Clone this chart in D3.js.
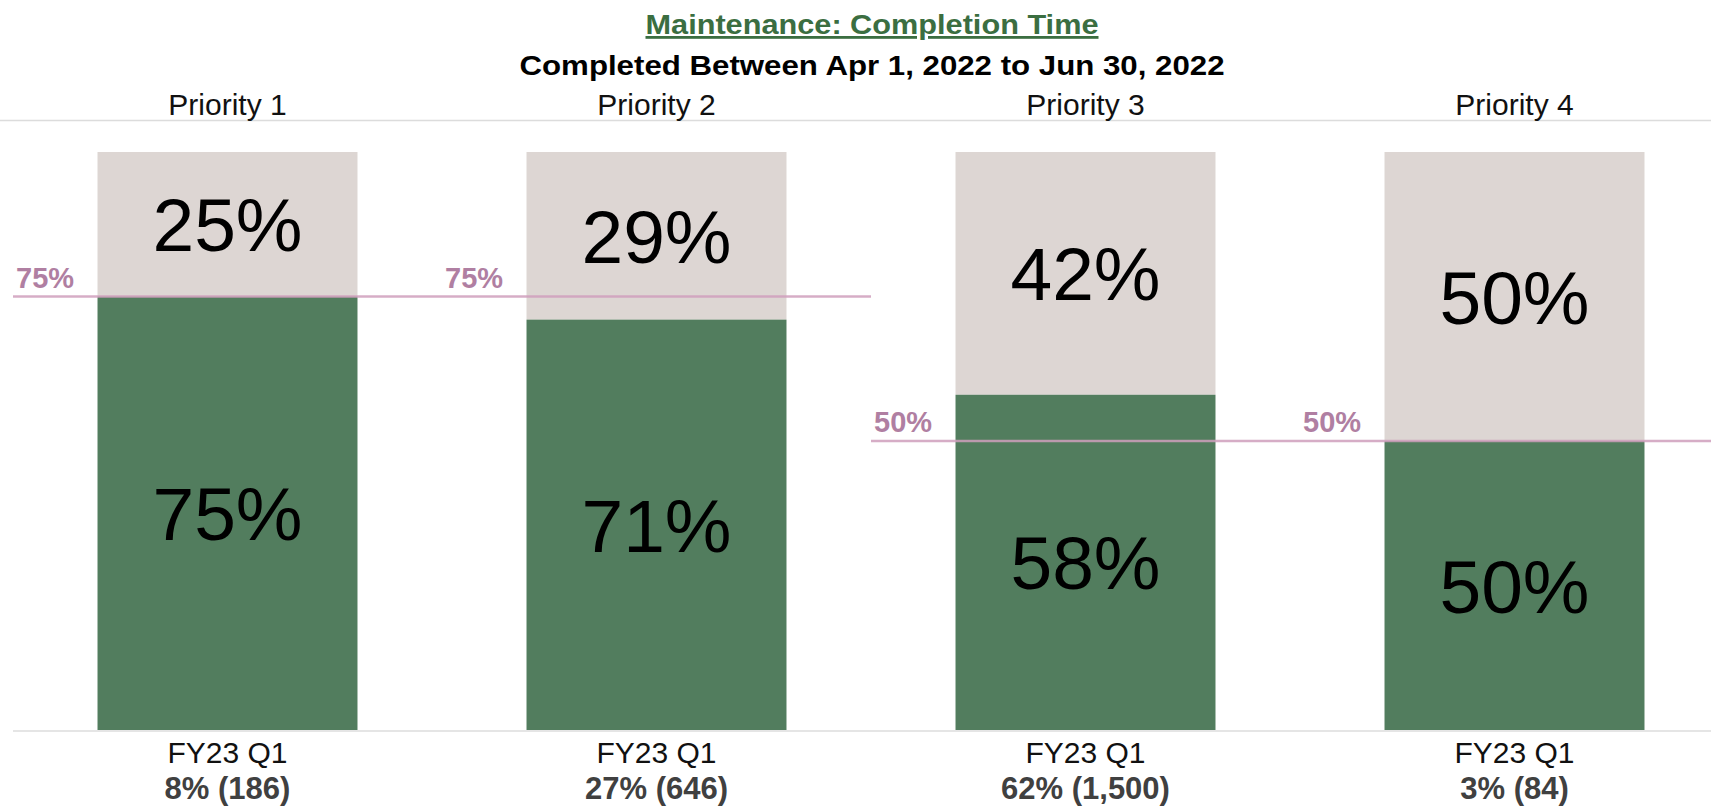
<!DOCTYPE html>
<html>
  <head>
    <style>
      body {
        margin: 0;
        background: #fff;
        font-family: "Liberation Sans", Arial, sans-serif;
      }
      svg text {
        font-family: "Liberation Sans", Arial, sans-serif;
      }
    </style>
    <script src="https://d3js.org/d3.v7.min.js"></script>
  </head>
  <body>
    <script>
      const width = 1711;
      const height = 809;

      // data
      const priorities = ["Priority 1", "Priority 2", "Priority 3", "Priority 4"];
      const onTime = [75, 71, 58, 50];
      const late = [25, 29, 42, 50];
      const targets = [75, 75, 50, 50];
      const periodLabels = ["FY23 Q1", "FY23 Q1", "FY23 Q1", "FY23 Q1"];
      const shareLabels = ["8% (186)", "27% (646)", "62% (1,500)", "3% (84)"];

      const green = "#527d5e";
      const grey = "#ddd6d3";
      const pink = "#cf9fbc";

      const svg = d3
        .select("body")
        .append("svg")
        .attr("width", width)
        .attr("height", height);

      const x = d3
        .scaleBand()
        .domain(priorities)
        .range([13, 1729])
        .paddingInner(0.394)
        .paddingOuter(0.197);

      const y = d3.scaleLinear().domain([0, 100]).range([730, 152]);

      const panelLeft = (d) => x(d) - (x.step() * x.paddingInner()) / 2;

      // titles
      svg
        .append("text")
        .attr("x", 872)
        .attr("y", 34)
        .attr("text-anchor", "middle")
        .attr("textLength", 453)
        .attr("lengthAdjust", "spacingAndGlyphs")
        .style("font-size", "28px")
        .style("font-weight", "bold")
        .style("fill", "#3b6e41")
        .style("text-decoration", "underline")
        .text("Maintenance: Completion Time");

      svg
        .append("text")
        .attr("x", 872)
        .attr("y", 75)
        .attr("text-anchor", "middle")
        .attr("textLength", 705)
        .attr("lengthAdjust", "spacingAndGlyphs")
        .style("font-size", "28px")
        .style("font-weight", "bold")
        .style("fill", "#000")
        .text("Completed Between Apr 1, 2022 to Jun  30, 2022");

      // header line + priority labels
      svg
        .append("line")
        .attr("x1", 0)
        .attr("x2", width)
        .attr("y1", 120.5)
        .attr("y2", 120.5)
        .attr("stroke", "#dcdcdc")
        .attr("stroke-width", 1.5);

      svg
        .selectAll(".prio")
        .data(priorities)
        .enter()
        .append("text")
        .attr("class", "prio")
        .attr("x", (d) => x(d) + x.bandwidth() / 2)
        .attr("y", 115)
        .attr("text-anchor", "middle")
        .style("font-size", "30px")
        .style("fill", "#111")
        .text((d) => d);

      // bars
      const g = svg
        .selectAll(".panel")
        .data(priorities)
        .enter()
        .append("g")
        .attr("class", "panel");

      g.append("rect")
        .attr("x", (d) => x(d))
        .attr("width", x.bandwidth())
        .attr("y", (d, i) => y(onTime[i] + late[i]))
        .attr("height", (d, i) => y(onTime[i]) - y(onTime[i] + late[i]))
        .attr("fill", grey);

      g.append("rect")
        .attr("x", (d) => x(d))
        .attr("width", x.bandwidth())
        .attr("y", (d, i) => y(onTime[i]))
        .attr("height", (d, i) => y(0) - y(onTime[i]))
        .attr("fill", green);

      // target lines
      g.append("line")
        .attr("x1", (d) => panelLeft(d))
        .attr("x2", (d) => Math.min(width, panelLeft(d) + x.step()))
        .attr("y1", (d, i) => y(targets[i]))
        .attr("y2", (d, i) => y(targets[i]))
        .attr("stroke", pink)
        .attr("stroke-opacity", 0.85)
        .attr("stroke-width", 2.5);

      g.append("text")
        .attr("x", (d) => panelLeft(d) + 3)
        .attr("y", (d, i) => y(targets[i]) - 9)
        .style("font-size", "29px")
        .style("font-weight", "bold")
        .style("fill", "#b07fa2")
        .text((d, i) => targets[i] + "%");

      // value labels
      g.append("text")
        .attr("x", (d) => x(d) + x.bandwidth() / 2)
        .attr("y", (d, i) => (y(onTime[i]) + y(onTime[i] + late[i])) / 2)
        .attr("dy", "0.36em")
        .attr("text-anchor", "middle")
        .style("font-size", "75px")
        .style("fill", "#000")
        .text((d, i) => late[i] + "%");

      g.append("text")
        .attr("x", (d) => x(d) + x.bandwidth() / 2)
        .attr("y", (d, i) => (y(0) + y(onTime[i])) / 2)
        .attr("dy", "0.36em")
        .attr("text-anchor", "middle")
        .style("font-size", "75px")
        .style("fill", "#000")
        .text((d, i) => onTime[i] + "%");

      // baseline
      svg
        .append("line")
        .attr("x1", 13)
        .attr("x2", width)
        .attr("y1", y(0) + 1)
        .attr("y2", y(0) + 1)
        .attr("stroke", "#dcdcdc")
        .attr("stroke-width", 1.5);

      // bottom labels
      g.append("text")
        .attr("x", (d) => x(d) + x.bandwidth() / 2)
        .attr("y", 763)
        .attr("text-anchor", "middle")
        .style("font-size", "30px")
        .style("fill", "#111")
        .text((d, i) => periodLabels[i]);

      g.append("text")
        .attr("x", (d) => x(d) + x.bandwidth() / 2)
        .attr("y", 799)
        .attr("text-anchor", "middle")
        .style("font-size", "31px")
        .style("font-weight", "bold")
        .style("fill", "#404040")
        .text((d, i) => shareLabels[i]);
    </script>
  </body>
</html>
